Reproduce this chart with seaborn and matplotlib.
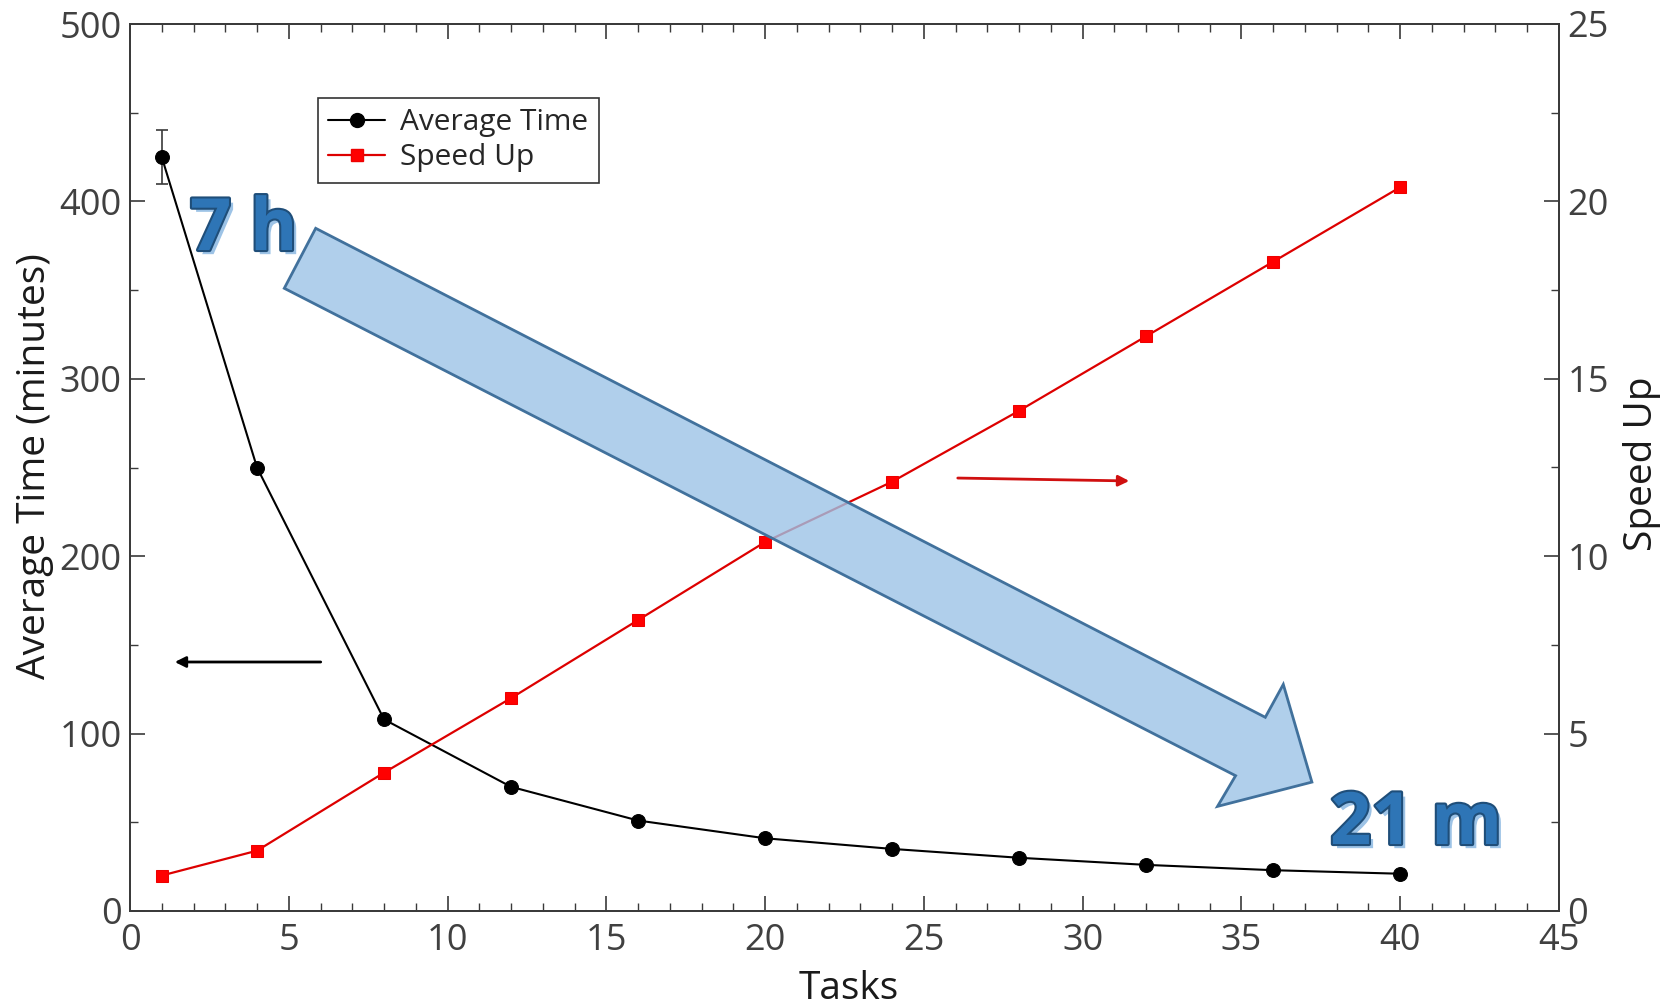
import numpy as np
import pandas as pd
import matplotlib
matplotlib.use('Agg')
import matplotlib.pyplot as plt
import seaborn as sns
from matplotlib.patches import Polygon, FancyArrowPatch
from matplotlib.ticker import MultipleLocator
from matplotlib.lines import Line2D
import matplotlib.patheffects as pe

# ---------------- data ----------------
tasks = [1, 4, 8, 12, 16, 20, 24, 28, 32, 36, 40]
avg_time = [425, 250, 108, 70, 51, 41, 35, 30, 26, 23, 21]
speed_up = [1.0, 1.7, 3.9, 6.0, 8.2, 10.4, 12.1, 14.1, 16.2, 18.3, 20.4]
err_tasks = [1]
err_time = [425]
err_size = [15]
series_names = ["Average Time", "Speed Up"]
start_label = "7 h"
end_label = "21 m"

# ---------------- style ----------------
sns.set_theme(style="white")
plt.rcParams['font.family'] = ['Open Sans', 'DejaVu Sans']

W, H = 1663, 1007
fig = plt.figure(figsize=(W / 100, H / 100), dpi=100)
ax = fig.add_axes([130 / W, 1 - 911 / H, (1559 - 130) / W, (911 - 24) / H])
ax2 = ax.twinx()

df = pd.DataFrame({"Tasks": tasks, "Average Time": avg_time, "Speed Up": speed_up})

sns.lineplot(data=df, x="Tasks", y="Average Time", ax=ax, color="black",
             marker="o", markersize=10, markeredgecolor="black",
             linewidth=1.5, legend=False, zorder=3)
ax.errorbar(err_tasks, err_time, yerr=err_size, fmt="none", ecolor="#3a3a3a",
            elinewidth=1.2, capsize=4.5, capthick=1.2, zorder=2)

sns.lineplot(data=df, x="Tasks", y="Speed Up", ax=ax2, color="#dd0000",
             marker="s", markersize=9, markeredgecolor="#ee0000",
             markerfacecolor="#ff0000", linewidth=1.6, legend=False, zorder=3)

ax.set_xlim(0, 45)
ax.set_ylim(0, 500)
ax2.set_ylim(0, 25)
ax.xaxis.set_major_locator(MultipleLocator(5))
ax.xaxis.set_minor_locator(MultipleLocator(1))
ax.yaxis.set_major_locator(MultipleLocator(100))
ax.yaxis.set_minor_locator(MultipleLocator(50))
ax2.yaxis.set_major_locator(MultipleLocator(5))
ax2.yaxis.set_minor_locator(MultipleLocator(2.5))

tick_col = "#404040"
spine_col = "#3a3a3a"
for a in (ax, ax2):
    for s in a.spines.values():
        s.set_color(spine_col)
        s.set_linewidth(1.3)
        s.set_visible(True)
ax.tick_params(axis="x", which="both", direction="in", top=True, bottom=True,
               colors=spine_col, labelcolor=tick_col, labelsize=26, pad=9)
ax.tick_params(axis="y", which="both", direction="in", left=True, right=False,
               colors=spine_col, labelcolor=tick_col, labelsize=26, pad=6)
ax2.tick_params(axis="y", which="both", direction="in", right=True, left=False,
                colors=spine_col, labelcolor=tick_col, labelsize=26, pad=6)
for a in (ax, ax2):
    a.tick_params(which="major", length=11, width=1.2)
    a.tick_params(which="minor", length=6, width=1.0)

ax.set_xlabel("Tasks", fontsize=28, color="#1a1a1a")
ax.set_ylabel("Average Time (minutes)", fontsize=28, color="#1a1a1a")
ax2.set_ylabel("Speed Up", fontsize=28, color="#1a1a1a")
ax.yaxis.label.set_va("center")
ax2.yaxis.label.set_va("center")
ax.xaxis.label.set_va("center")
ax.yaxis.set_label_coords(-0.0665, 0.502)
ax2.yaxis.set_label_coords(1.058, 0.504)
ax.xaxis.set_label_coords(0.503, -0.088)

# legend
h1 = Line2D([], [], color="black", marker="o", markersize=10, linewidth=1.5)
h2 = Line2D([], [], color="#dd0000", marker="s", markersize=9,
            markerfacecolor="#ff0000", markeredgecolor="#ee0000", linewidth=1.6)
leg = ax2.legend([h1, h2], series_names, loc="upper left",
                 bbox_to_anchor=((318 - 130) / 1429, (911 - 98) / 887),
                 borderaxespad=0, fancybox=False, framealpha=1,
                 edgecolor="#333333", fontsize=21.5, handlelength=1.9,
                 handletextpad=0.5, borderpad=0.35, labelspacing=0.2)
leg.get_frame().set_linewidth(1.2)

# helper: pixel (from top-left) -> figure fraction
def fp(x, y):
    return (x / W, 1 - y / H)

# big translucent arrow
arrow_px = [(315.7, 228.3), (1265.3, 717.3), (1283.3, 684.4), (1311.9, 782.1),
            (1217.5, 806.4), (1235.6, 775.7), (284.3, 288.3)]
poly = Polygon([fp(x, y) for x, y in arrow_px], closed=True,
               transform=fig.transFigure, facecolor="#9dc3e6", alpha=0.8,
               edgecolor="none", linewidth=0, zorder=5)
fig.add_artist(poly)
edge = Polygon([fp(x, y) for x, y in arrow_px], closed=True,
               transform=fig.transFigure, facecolor="none",
               edgecolor="#41719c", linewidth=2, zorder=5.1)
fig.add_artist(edge)

# small axis-pointing arrows
a1 = FancyArrowPatch(fp(323.5, 662), fp(172, 662), transform=fig.transFigure,
                     arrowstyle="-|>", mutation_scale=16, color="black",
                     linewidth=2, zorder=6)
fig.add_artist(a1)
a2 = FancyArrowPatch(fp(955, 478), fp(1132, 481), transform=fig.transFigure,
                     arrowstyle="-|>", mutation_scale=16, color="#d01010",
                     linewidth=2, zorder=6)
fig.add_artist(a2)

# big labels
effects = [pe.SimplePatchShadow(offset=(3, -3), shadow_rgbFace="#9dc3e6", alpha=1.0),
           pe.Stroke(linewidth=3, foreground="#1f4e79"), pe.Normal()]
x0, y0 = fp(190, 250)
fig.text(x0, y0, start_label, fontsize=52, fontweight="bold", color="#2e75b6",
         ha="left", va="baseline", path_effects=effects, zorder=7)
x1, y1 = fp(1330, 844)
fig.text(x1, y1, end_label, fontsize=52, fontweight="bold", color="#2e75b6",
         ha="left", va="baseline", path_effects=effects, zorder=7)

fig.savefig("out.png", dpi=100)
